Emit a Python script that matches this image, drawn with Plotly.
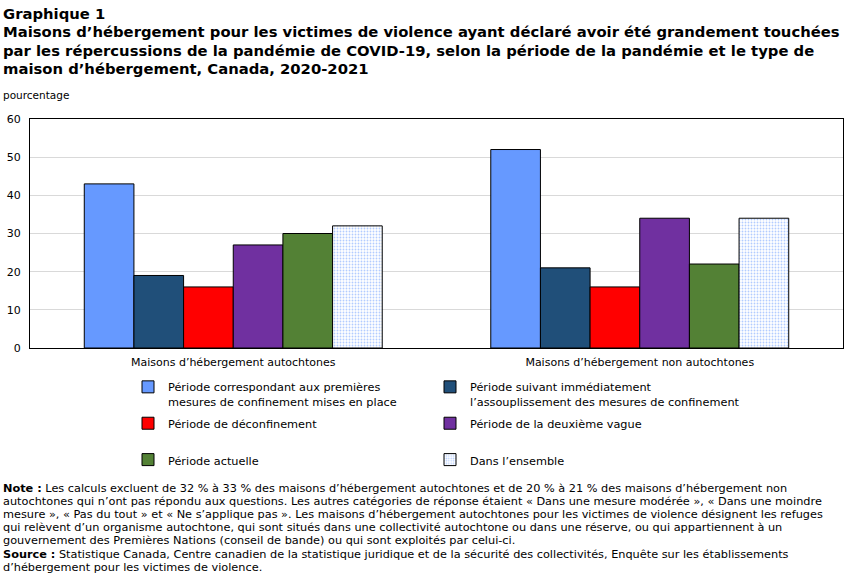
import plotly.graph_objects as go

categories = ["Maisons d’hébergement autochtones", "Maisons d’hébergement non autochtones"]
series_names = [
    "Période correspondant aux premières<br>mesures de confinement mises en place",
    "Période suivant immédiatement<br>l’assouplissement des mesures de confinement",
    "Période de déconfinement<br> ",
    "Période de la deuxième vague<br> ",
    "Période actuelle",
    "Dans l’ensemble",
]
premieres = [43, 52]
assouplissement = [19, 21]
deconfinement = [16, 16]
deuxieme_vague = [27, 34]
actuelle = [30, 22]
ensemble = [32, 34]
series_values = [premieres, assouplissement, deconfinement, deuxieme_vague, actuelle, ensemble]
colors = ["#6699FF", "#204F79", "#FF0000", "#7030A0", "#538135", "#FFFFFF"]
y_ticks = [0, 10, 20, 30, 40, 50, 60]

title_lines = [
    "Graphique 1",
    "Maisons d’hébergement pour les victimes de violence ayant déclaré avoir été grandement touchées",
    "par les répercussions de la pandémie de COVID-19, selon la période de la pandémie et le type de",
    "maison d’hébergement, Canada, 2020-2021",
]
note_lines = [
    "<b>Note :</b> Les calculs excluent de 32 % à 33 % des maisons d’hébergement autochtones et de 20 % à 21 % des maisons d’hébergement non",
    "autochtones qui n’ont pas répondu aux questions. Les autres catégories de réponse étaient « Dans une mesure modérée », « Dans une moindre",
    "mesure », « Pas du tout » et « Ne s’applique pas ». Les maisons d’hébergement autochtones pour les victimes de violence désignent les refuges",
    "qui relèvent d’un organisme autochtone, qui sont situés dans une collectivité autochtone ou dans une réserve, ou qui appartiennent à un",
    "gouvernement des Premières Nations (conseil de bande) ou qui sont exploités par celui-ci.",
    "<b>Source :</b> Statistique Canada, Centre canadien de la statistique juridique et de la sécurité des collectivités, Enquête sur les établissements",
    "d’hébergement pour les victimes de violence.",
]

FONT = "DejaVu Sans"

W, H = 851, 577
L, R, T, B = 30, 8, 119, 229
W_plot = W - L - R
H_plot = H - T - B


def px_x(x):
    return (x - L) / W_plot


def px_y(y):
    return (H - B - y) / H_plot


fig = go.Figure()
for i, (name, vals, col) in enumerate(zip(series_names, series_values, colors)):
    marker = dict(color=col, line=dict(color="#000000", width=1))
    if i == 5:
        marker["pattern"] = dict(shape=".", fgcolor="#6699FF", bgcolor="#FFFFFF", size=3, solidity=0.3)
    fig.add_trace(go.Bar(x=categories, y=vals, name=name, marker=marker, legendgroup="g%d" % i,
                         legend="legend" if i % 2 == 0 else "legend2"))

annotations = []
for k, line in enumerate(title_lines):
    annotations.append(dict(text="<b>" + line + "</b>", x=px_x(1), xref="paper", xanchor="left",
                            y=px_y(14 + 18 * k), yref="paper", yanchor="middle", showarrow=False,
                            font=dict(family=FONT, size=14.8, color="#000000")))
annotations.append(dict(text="pourcentage", x=px_x(1), xref="paper", xanchor="left", y=px_y(95), yref="paper",
                        yanchor="middle", showarrow=False, font=dict(family=FONT, size=10.5, color="#000000")))
for k, line in enumerate(note_lines):
    annotations.append(dict(text=line, x=px_x(1), xref="paper", xanchor="left",
                            y=px_y(488 + 13.2 * k), yref="paper", yanchor="middle", showarrow=False,
                            font=dict(family=FONT, size=11.3, color="#000000")))

legend_common = dict(yanchor="top", xanchor="left", orientation="v", traceorder="grouped", valign="top",
                     font=dict(family=FONT, size=11.3, color="#000000"), itemwidth=30,
                     tracegroupgap=4, bgcolor="rgba(0,0,0,0)")

fig.update_layout(
    width=W, height=H,
    margin=dict(l=L, r=R, t=T, b=B, autoexpand=False),
    paper_bgcolor="white", plot_bgcolor="white",
    barmode="group", bargap=0.267, bargroupgap=0,
    font=dict(family=FONT, size=11, color="#000000"),
    showlegend=True,
    legend=dict(x=px_x(128), y=px_y(373), **legend_common),
    legend2=dict(x=px_x(430), y=px_y(373), **legend_common),
    annotations=annotations,
)

fig.update_xaxes(showline=True, linecolor="#000000", linewidth=1, mirror=True,
                 tickfont=dict(family=FONT, size=11), ticks="", showgrid=False, ticklabelstandoff=4)
fig.update_yaxes(range=[0, 60], tickvals=y_ticks, showline=True, linecolor="#000000", linewidth=1, mirror=True,
                 gridcolor="#D9D9D9", gridwidth=1, zeroline=False, ticks="", ticklabelstandoff=6,
                 tickfont=dict(family=FONT, size=11))

fig.write_html("out.html")
